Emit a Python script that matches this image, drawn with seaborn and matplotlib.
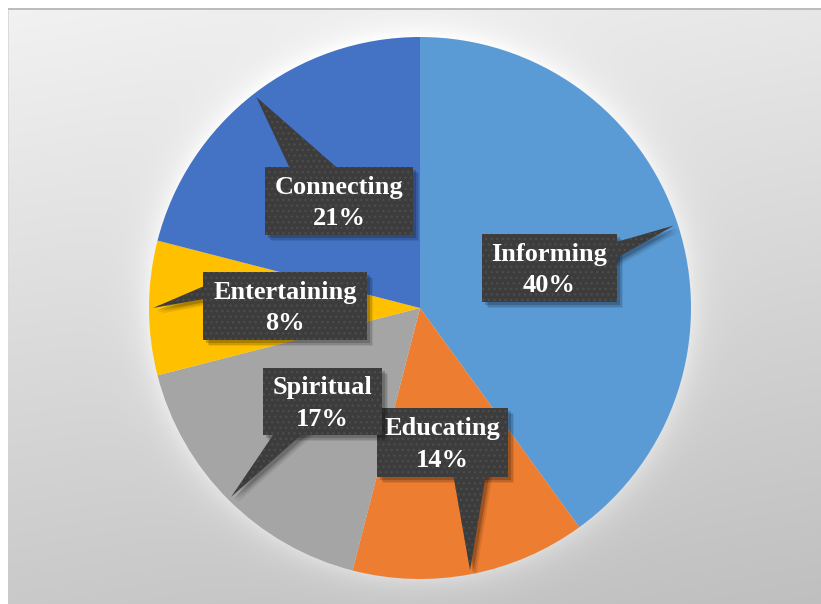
import numpy as np
import matplotlib
matplotlib.use('Agg')
import matplotlib.pyplot as plt
import seaborn as sns
from matplotlib.patches import Polygon

# ---- data ----
categories = ['Informing', 'Educating', 'Spiritual', 'Entertaining', 'Connecting']
shares = [40, 14, 17, 8, 21]
pct_labels = ['40%', '14%', '17%', '8%', '21%']

# ---- style ----
sns.set_theme(style='white')
plt.rcParams['font.family'] = ['Liberation Serif', 'DejaVu Serif']
plt.rcParams['hatch.linewidth'] = 1.0
colors = sns.color_palette(['#5B9BD5', '#ED7D31', '#A5A5A5', '#FFC000', '#4472C4'])

W, H = 821, 604
CX, CY, R = 420, 308, 271

# callout layout: box centre, box size, pointer base (two points, relative to box centre)
layout = {
    'Informing':    dict(c=(549.5, 268), s=(135, 68), base=[(60, -24), (60, -6)]),
    'Educating':    dict(c=(442.5, 442.5), s=(131, 69), base=[(10, 28), (44, 28)]),
    'Spiritual':    dict(c=(322.5, 401.5), s=(119, 67), base=[(-45, 27), (-14, 27)]),
    'Entertaining': dict(c=(285, 306), s=(164, 68), base=[(-76, -22), (-76, -8)]),
    'Connecting':   dict(c=(339, 201), s=(148, 68), base=[(-47, -28), (4, -28)]),
}

fig = plt.figure(figsize=(W / 100, H / 100), dpi=100)
ax = fig.add_axes([0, 0, 1, 1])

# ---- background gradient with soft glow around the pie ----
yy, xx = np.mgrid[0:H, 0:W] + 0.5
bg = 0.95 - 0.16 * (yy / H) - 0.04 * (xx / W)
d = np.hypot(xx - CX, yy - CY)
bg = bg + 0.08 * np.exp(-np.clip(d - R, 0, None) / 15.0)
bg = np.clip(bg, 0, 1)
bg[:, :9] = np.minimum(bg[:, :9], 0.86)
bg[:8, :] = 1.0
bg[:, :8] = 1.0
bg[8:10, 8:] = 0.74
img = np.dstack([bg, bg, bg])
ax.imshow(img, extent=(0, W, H, 0), zorder=0, interpolation='bilinear')

# ---- pie ----
wedges, _ = ax.pie(shares, colors=colors, startangle=-90, counterclock=True,
                   center=(CX, CY), radius=R,
                   wedgeprops=dict(linewidth=0, zorder=2))
for w in wedges:
    w.set_zorder(2)

# ---- callouts ----
for i, (w, cat, pct) in enumerate(zip(wedges, categories, pct_labels)):
    lay = layout[cat]
    bx, by = lay['c']
    bw, bh = lay['s']
    th = np.deg2rad((w.theta1 + w.theta2) / 2)
    tip = (CX + 0.985 * R * np.cos(th), CY + 0.985 * R * np.sin(th))
    b1 = (bx + lay['base'][0][0], by + lay['base'][0][1])
    b2 = (bx + lay['base'][1][0], by + lay['base'][1][1])
    box = [(bx - bw / 2, by - bh / 2), (bx + bw / 2, by - bh / 2),
           (bx + bw / 2, by + bh / 2), (bx - bw / 2, by + bh / 2)]
    tri = [tip, b1, b2]
    # shadows
    for k, (off, a) in enumerate([(6, 0.08), (4.5, 0.12), (3, 0.18)]):
        for shape in (box, tri):
            sh = [(x + off, y + off) for x, y in shape]
            ax.add_patch(Polygon(sh, closed=True, facecolor='black', alpha=a,
                                 linewidth=0, zorder=3 + i * 0.1))
    for shape in (tri, box):
        ax.add_patch(Polygon(shape, closed=True, facecolor='#3c3c3c',
                             edgecolor='#4c4c4c', hatch='...', linewidth=0,
                             zorder=3.05 + i * 0.1))
    ax.text(bx, by + 2, f'{cat}\n{pct}', ha='center', va='center', color='white',
            fontsize=19, fontweight='bold', linespacing=1.45, zorder=3.08 + i * 0.1)

ax.set_xlim(0, W)
ax.set_ylim(H, 0)
ax.axis('off')

fig.savefig('out.png', dpi=100)
